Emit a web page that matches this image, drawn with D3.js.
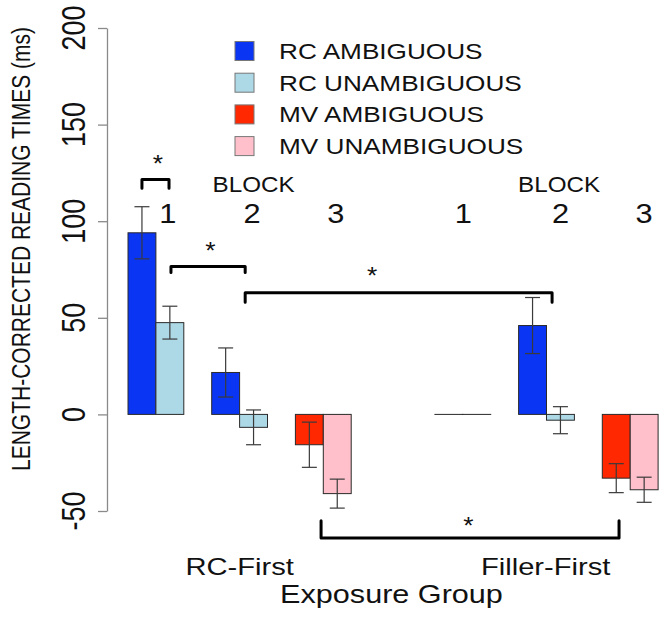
<!DOCTYPE html>
<html>
<head>
<meta charset="utf-8">
<script src="https://cdn.jsdelivr.net/npm/d3@7"></script>
<style>
  html, body { margin: 0; padding: 0; background: #fff; }
  text { font-family: "Liberation Sans", Arial, Helvetica, sans-serif; fill: #111; }
</style>
</head>
<body>
<svg id="chart" width="664" height="617"></svg>
<script>
// ---------------- data ----------------
const groups      = ["RC-First B1", "RC-First B2", "RC-First B3", "Filler-First B1", "Filler-First B2", "Filler-First B3"];
const groupStart  = [0, 3, 6, 11, 14, 17];           // in bar-width units
const groupKind   = ["RC", "RC", "MV", "RC", "RC", "MV"];
const ambiguous   = [94, 21.7, -15.7, 0, 46, -33];
const unambiguous = [47.5, -6.7, -41, 0, -3, -39];
const ambigErr    = [13.5, 12.7, 11.7, 0, 14.5, 7.5];
const unambigErr  = [8.5, 9, 7.5, 0, 7, 6.5];

const legendLabels = ["RC AMBIGUOUS", "RC UNAMBIGUOUS", "MV AMBIGUOUS", "MV UNAMBIGUOUS"];
const legendColors = ["#0a35f2", "#add8e6", "#ff2800", "#ffc0cb"];
const yTicks = [-50, 0, 50, 100, 150, 200];

const blockLabels = ["1", "2", "3", "1", "2", "3"];
const blockLabelU = [1.43, 4.45, 7.45, 12.02, 15.5, 18.5];
const blockTitleU = [4.5, 15.45];
const exposureLabels = ["RC-First", "Filler-First"];
const exposureU = [4.0, 14.97];

// significance brackets: [u1, u2, yBar, yLeg, starU, starY]
const brackets = [
  [0.5, 1.47, 121.6, 117, 1.07, 131],
  [1.54, 4.2, 76.6, 73.5, 2.95, 86],
  [4.2, 15.2, 63, 58, 8.75, 73],
  [6.92, 17.6, -64, -55, 12.2, -56]
];

// ---------------- setup ----------------
const svg = d3.select("#chart");
const x = d3.scaleLinear().domain([0, 1]).range([128, 155.9]);
const bw = x(1) - x(0);
const y = d3.scaleLinear().domain([-50, 200]).range([511, 28]);
const SX = 1.2;  // horizontal stretch of the reference

function stretchedText(sel, px, py, str, size, anchor, sx, rot) {
  return sel.append("text")
    .attr("transform", `translate(${px},${py}) scale(${sx},1)` + (rot ? ` rotate(${rot})` : ""))
    .attr("text-anchor", anchor)
    .attr("font-size", size)
    .text(str);
}

// ---------------- axis ----------------
const axis = svg.append("g")
  .attr("transform", `translate(107,0)`)
  .call(d3.axisLeft(y).tickValues(yTicks).tickSize(9).tickSizeOuter(0).tickFormat(""));
axis.selectAll("path, line").attr("stroke", "#8a8a8a").attr("stroke-width", 1.3);
yTicks.forEach(t => stretchedText(svg, 85, y(t), String(t), 27, "middle", SX, -90));
stretchedText(svg, 29.5, 249, "LENGTH-CORRECTED READING TIMES (ms)", 21, "middle", SX, -90);

// ---------------- bars ----------------
const bars = [];
groups.forEach((g, i) => {
  const kind = groupKind[i];
  bars.push({ u: groupStart[i], v: ambiguous[i], e: ambigErr[i],
              color: kind === "RC" ? legendColors[0] : legendColors[2] });
  bars.push({ u: groupStart[i] + 1, v: unambiguous[i], e: unambigErr[i],
              color: kind === "RC" ? legendColors[1] : legendColors[3] });
});

svg.append("g").selectAll("rect").data(bars).join("rect")
  .attr("x", d => x(d.u))
  .attr("width", bw)
  .attr("y", d => Math.min(y(d.v), y(0)))
  .attr("height", d => Math.max(Math.abs(y(d.v) - y(0)), 0.01))
  .attr("fill", d => d.color)
  .attr("stroke", "#2a2a2a")
  .attr("stroke-width", 1);

// error bars
const eb = svg.append("g").attr("stroke", "#3a3a3a").attr("stroke-width", 1.2).attr("fill", "none");
bars.forEach(d => {
  if (d.e === 0) return;
  const cx = x(d.u + 0.5);
  const cap = 7.5;
  eb.append("line").attr("x1", cx).attr("x2", cx).attr("y1", y(d.v + d.e)).attr("y2", y(d.v - d.e));
  eb.append("line").attr("x1", cx - cap).attr("x2", cx + cap).attr("y1", y(d.v + d.e)).attr("y2", y(d.v + d.e));
  eb.append("line").attr("x1", cx - cap).attr("x2", cx + cap).attr("y1", y(d.v - d.e)).attr("y2", y(d.v - d.e));
});

// ---------------- block labels ----------------
blockTitleU.forEach(u => stretchedText(svg, x(u), 192, "BLOCK", 22, "middle", 1.1));
blockLabels.forEach((l, i) => stretchedText(svg, x(blockLabelU[i]), 223, l, 28, "middle", 1.1));

// ---------------- brackets ----------------
const br = svg.append("g").attr("stroke", "#000").attr("stroke-width", 3)
  .attr("fill", "none").attr("stroke-linejoin", "round").attr("stroke-linecap", "round");
brackets.forEach(b => {
  const [u1, u2, yb, yl, su, sy] = b;
  br.append("path").attr("d",
    `M${x(u1)},${y(yl)} L${x(u1)},${y(yb)} L${x(u2)},${y(yb)} L${x(u2)},${y(yl)}`);
  stretchedText(svg, x(su), y(sy) + 11, "*", 24, "middle", 1.1);
});

// ---------------- group labels ----------------
exposureLabels.forEach((l, i) => stretchedText(svg, x(exposureU[i]), 575, l, 24.5, "middle", 1.19));
stretchedText(svg, 391.5, 603, "Exposure Group", 25.5, "middle", 1.2);

// ---------------- legend ----------------
const lg = svg.append("g");
legendLabels.forEach((l, i) => {
  const cy = 51 + i * 31.7;
  lg.append("rect").attr("x", 235).attr("y", cy - 9.5).attr("width", 19).attr("height", 19)
    .attr("fill", legendColors[i]).attr("stroke", "#777").attr("stroke-width", 1);
  stretchedText(lg, 279, cy + 8, l, 22, "start", 1.19);
});
</script>
</body>
</html>
